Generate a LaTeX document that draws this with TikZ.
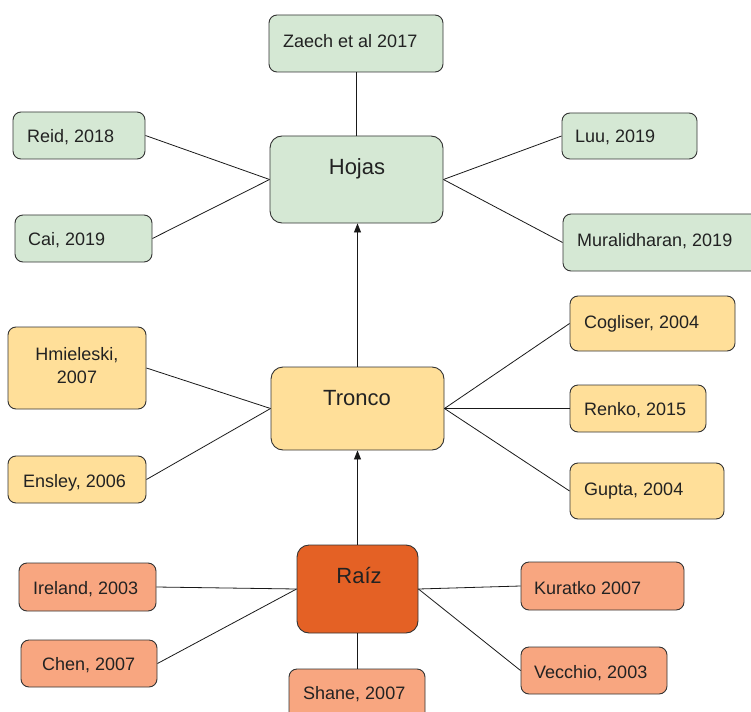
\documentclass[tikz,border=0pt]{standalone}
\usepackage{fontspec}
\setmainfont{Liberation Sans}
\usetikzlibrary{arrows.meta}
\definecolor{gfill}{HTML}{D5E8D4}
\definecolor{yfill}{HTML}{FFDF99}
\definecolor{rfill}{HTML}{E46125}
\definecolor{ofill}{HTML}{F8A680}
\definecolor{edge}{HTML}{333333}
\definecolor{ink}{HTML}{222222}
\tikzset{
  box/.style={rectangle, rounded corners=8pt, draw=edge, line width=0.9pt, inner sep=0pt},
  hub/.style={box, rounded corners=12pt},
  lbl/.style={inner sep=0pt, text=ink, font=\fontsize{18}{23}\selectfont, text height=12.9pt, text depth=0pt, anchor=west},
  mlbl/.style={inner sep=0pt, text=ink, font=\fontsize{22}{26}\selectfont, text height=15.8pt, text depth=0pt},
  link/.style={draw=black!90, line width=0.8pt},
  arr/.style={link, -{Triangle[length=9pt,width=7pt]}}
}
\begin{document}
\begin{tikzpicture}[x=1pt,y=-1pt]
\useasboundingbox (0,0) rectangle (751,711);
% boxes
\node[box, fill=gfill, minimum width=174, minimum height=57] (zaech) at (356,43.5) {};
\node[hub, fill=gfill, minimum width=173, minimum height=87] (hojas) at (356.5,179.5) {};
\node[box, fill=gfill, minimum width=132, minimum height=47] (reid) at (79,135.5) {};
\node[box, fill=gfill, minimum width=137, minimum height=47] (cai) at (83.5,238.5) {};
\node[box, fill=gfill, minimum width=135, minimum height=46] (luu) at (629.5,136) {};
\node[box, fill=gfill, minimum width=207, minimum height=57] (mural) at (666.5,242.5) {};
\node[box, fill=yfill, minimum width=138, minimum height=82] (hmiel) at (77,368) {};
\node[box, fill=yfill, minimum width=138, minimum height=47] (ensley) at (77,479.5) {};
\node[hub, fill=yfill, minimum width=173, minimum height=83] (tronco) at (357.5,408.5) {};
\node[box, fill=yfill, minimum width=165, minimum height=55] (cogliser) at (652.5,323.5) {};
\node[box, fill=yfill, minimum width=136, minimum height=47] (renko) at (638,408.5) {};
\node[box, fill=yfill, minimum width=154, minimum height=56] (gupta) at (647,491) {};
\node[hub, fill=rfill, minimum width=121, minimum height=88] (raiz) at (357.5,589) {};
\node[box, fill=ofill, minimum width=137, minimum height=48] (ireland) at (87.5,587) {};
\node[box, fill=ofill, minimum width=136, minimum height=47] (chen) at (89,663.5) {};
\node[box, fill=ofill, minimum width=136, minimum height=61] (shane) at (357,699.5) {};
\node[box, fill=ofill, minimum width=163, minimum height=48] (kuratko) at (602.5,586) {};
\node[box, fill=ofill, minimum width=146, minimum height=47] (vecchio) at (594,670.5) {};
% labels
\node[lbl] (tzaech) at (283,41) {Zaech et al 2017};
\node[mlbl] (thojas) at (357,167) {Hojas};
\node[lbl] (treid) at (27,136) {Reid, 2018};
\node[lbl] (tcai) at (28,239) {Cai, 2019};
\node[lbl] (tluu) at (575,136) {Luu, 2019};
\node[lbl] (tmural) at (577,240) {Muralidharan, 2019};
\node[inner sep=0pt, text=ink, font=\fontsize{18}{23}\selectfont, align=center, anchor=north] (thmiel) at (77,347.5) {Hmieleski,\\2007};
\node[lbl] (tensley) at (23,481) {Ensley, 2006};
\node[mlbl] (ttronco) at (357,398) {Tronco};
\node[lbl] (tcogliser) at (584,322) {Cogliser, 2004};
\node[lbl] (trenko) at (584,409) {Renko, 2015};
\node[lbl] (tgupta) at (584,489) {Gupta, 2004};
\node[mlbl] (traiz) at (359,576) {Raíz};
\node[lbl] (tireland) at (33,588) {Ireland, 2003};
\node[lbl] (tchen) at (42,664) {Chen, 2007};
\node[lbl] (tshane) at (303,693) {Shane, 2007};
\node[lbl] (tkuratko) at (534,588) {Kuratko 2007};
\node[lbl] (tvecchio) at (534,672) {Vecchio, 2003};
% connectors
\draw[link] (zaech.south) -- (zaech.south |- hojas.north);
\draw[link] (reid.east) -- (hojas.west);
\draw[link] (cai.east) -- (hojas.west);
\draw[link] (luu.west) -- (hojas.east);
\draw[link] (mural.west) -- (hojas.east);
\draw[arr] (tronco.north) -- (tronco.north |- hojas.south);
\draw[link] (hmiel.east) -- (tronco.west);
\draw[link] (ensley.east) -- (tronco.west);
\draw[link] (cogliser.west) -- (tronco.east);
\draw[link] (renko.west) -- (tronco.east);
\draw[link] (gupta.west) -- (tronco.east);
\draw[arr] (raiz.north) -- (tronco.south);
\draw[link] (ireland.east) -- (raiz.west);
\draw[link] (chen.east) -- (raiz.west);
\draw[link] (kuratko.west) -- (raiz.east);
\draw[link] (vecchio.west) -- (raiz.east);
\draw[link] (shane.north) -- (shane.north |- raiz.south);
\end{tikzpicture}
\end{document}
